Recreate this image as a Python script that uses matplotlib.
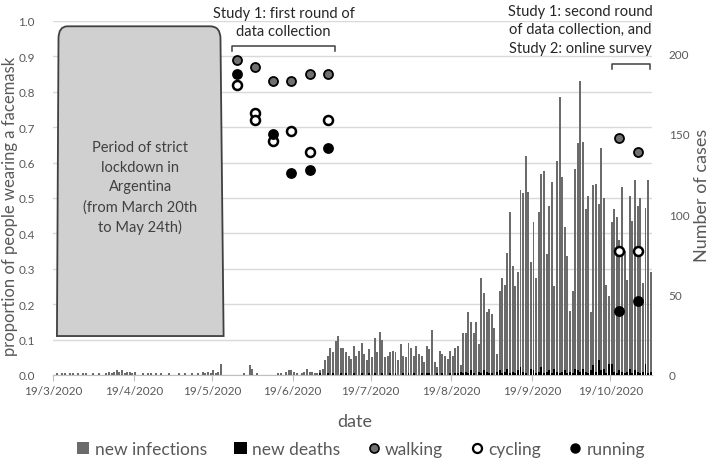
import datetime as dt
import matplotlib
matplotlib.use('Agg')
import matplotlib.pyplot as plt
import matplotlib.dates as mdates
from matplotlib.path import Path
from matplotlib.patches import PathPatch, Patch
from matplotlib.lines import Line2D
from matplotlib.ticker import FuncFormatter, MultipleLocator

plt.rcParams['font.family'] = ['Lato', 'DejaVu Sans']

# daily series, one value per day starting 19/3/2020
start = dt.datetime(2020, 3, 19)
new_infections = [
    0, 1, 0, 1, 1, 0, 1, 1, 0, 1, 0, 1, 1,
    0, 0, 1, 0, 1, 0, 0, 1,
    2, 1, 2, 3, 2, 3, 1, 2, 2, 1, 2,
    0, 0, 1, 0, 1, 1, 0, 1, 0, 1, 0, 0, 1, 0, 0, 0,
    1, 0, 1, 0, 0, 1, 0,
    1, 0, 2, 1, 2, 1, 3, 1, 2, 7, 0, 0,
    0, 0, 0, 0, 0, 0, 1, 0,
    6, 4, 0, 1, 0, 0,
    0, 0, 0, 0, 0, 1,
    1, 0, 2, 3, 3, 2, 1, 0, 1, 2, 4, 2, 2, 1, 1, 3,
    4, 9, 12, 17, 14, 21, 24, 17, 17, 14, 12, 10, 18, 12, 15,
    20, 13, 9, 16, 11, 23, 14, 27,
    22, 11, 12, 14, 15, 14, 9, 19, 12, 11, 20, 17, 12, 18, 13, 12,
    8, 18, 16, 28, 8, 5, 15, 13, 12, 10, 15, 12, 17, 18, 6,
    26, 26, 39, 33, 26, 33, 19, 60, 51, 39, 41, 38, 29, 13, 52, 60,
    56, 76, 101, 68, 55, 64,
    115, 113, 136, 114, 70, 95, 60, 101, 125, 127, 75, 105, 120, 55, 133, 173,
    123, 92, 74, 40, 52, 128, 144, 183,
    145, 103, 111, 39, 118, 119, 106, 141, 110, 56, 49, 95, 103, 98, 84,
    117, 77, 59, 111, 96, 121, 105, 110, 57, 104, 121, 64,
]
new_deaths = [
    0, 0, 0, 0, 0, 0, 0, 0, 0, 0, 0, 0, 0, 0, 0, 0, 0, 0, 0, 0,
    0, 0, 0, 0, 0, 0, 0, 0, 0, 0, 0, 0, 0, 0, 0, 0, 0, 0, 0, 0,
    0, 0, 0, 0, 0, 0, 0, 0, 0, 0, 0, 0, 0, 0, 0, 0, 0, 0, 0, 0,
    0, 0, 0, 0, 0, 0, 0,
    0, 0, 0, 0, 0, 0, 0, 0, 0, 0,
    0, 0, 0, 0, 0, 0, 0, 0, 0, 0,
    0, 0, 0, 0, 0, 0, 0, 0, 0, 0,
    0, 0, 0, 0, 0, 1, 0, 0, 1, 0,
    1, 0, 0, 1, 0, 1, 0, 0, 1, 0,
    0, 1, 0, 0, 1, 0, 1, 0, 0, 1,
    0, 0, 1, 0, 1, 0, 0, 1, 0, 1,
    0, 1, 0, 0, 1, 0, 1, 1, 0, 0,
    1, 0, 1, 0, 0, 1, 0, 1, 1, 2,
    1, 2, 1, 3, 1, 0, 2, 1, 3, 2, 1, 1, 0, 2, 3, 1, 2, 4, 1, 2,
    1, 3, 5, 2, 1, 0, 4, 3, 1, 2, 5, 1, 2, 3, 1, 4, 2, 1,
    2, 3, 1, 2, 1, 4, 3, 2, 4, 2, 1, 3, 6, 2, 9, 3, 4, 1, 7, 7,
    2, 1, 3, 2, 1, 2, 4, 1, 3, 2, 1, 2, 7, 1, 2,
]

# proportion wearing a facemask (left axis)
walking_dates = ['2020-05-28', '2020-06-04', '2020-06-11', '2020-06-18',
                 '2020-06-25', '2020-07-02', '2020-10-22', '2020-10-29']
walking = [0.89, 0.87, 0.83, 0.83, 0.85, 0.85, 0.67, 0.63]
cycling_dates = ['2020-05-28', '2020-06-04', '2020-06-04', '2020-06-11',
                 '2020-06-18', '2020-06-25', '2020-07-02', '2020-10-22',
                 '2020-10-29']
cycling = [0.82, 0.74, 0.72, 0.66, 0.69, 0.63, 0.72, 0.35, 0.35]
running_dates = ['2020-05-28', '2020-06-11', '2020-06-18', '2020-06-25',
                 '2020-07-02', '2020-10-22', '2020-10-29']
running = [0.85, 0.68, 0.57, 0.58, 0.64, 0.18, 0.21]

lockdown_start = dt.datetime(2020, 3, 20, 12)
lockdown_end = dt.datetime(2020, 5, 23, 12)

grey_txt = '#595959'
noon = dt.timedelta(hours=12)


def to_dates(lst):
    return [dt.datetime.strptime(s, '%Y-%m-%d') + noon for s in lst]


days = [start + dt.timedelta(days=i) + noon for i in range(len(new_infections))]

fig = plt.figure(figsize=(7.09, 4.64), dpi=100)
ax = fig.add_axes([0.0748, 0.1897, 0.8448, 0.7629])
ax_bar = ax.twinx()
ax_sc = ax.twinx()

ax.set_xlim(start, start + dt.timedelta(days=len(new_infections)))
ax.set_ylim(0, 1)
ax.yaxis.set_major_locator(MultipleLocator(0.1))
ax.yaxis.set_major_formatter(FuncFormatter(lambda v, p: '%.1f' % v))
ax.grid(axis='y', color='#d9d9d9', lw=1)
ax.xaxis.set_major_locator(mdates.MonthLocator(bymonthday=19))
ax.xaxis.set_major_formatter(FuncFormatter(
    lambda v, p: '{d.day}/{d.month}/{d.year}'.format(d=mdates.num2date(v))))
ax.tick_params(axis='x', length=4, color='#bfbfbf', labelcolor=grey_txt,
               labelsize=8.5, pad=3)
ax.tick_params(axis='y', length=0, labelcolor=grey_txt, labelsize=8.5, pad=13)
for s in ['top', 'right', 'left']:
    ax.spines[s].set_visible(False)
ax.spines['bottom'].set_color('#bfbfbf')

ax_bar.bar(days, new_infections, width=0.75, color='#6b6b6b', zorder=2)
ax_bar.bar(days, new_deaths, width=0.75, color='black', zorder=3)
ax_bar.set_ylim(0, 220)
ax_bar.yaxis.set_major_locator(MultipleLocator(50))
ax_bar.tick_params(axis='y', length=0, labelcolor=grey_txt, labelsize=8.5,
                   pad=12)
for s in ax_bar.spines.values():
    s.set_visible(False)

ax_sc.set_ylim(0, 1)
ax_sc.axis('off')

# lockdown box with rounded top
x0 = mdates.date2num(lockdown_start)
x1 = mdates.date2num(lockdown_end)
y0, y1 = 0.11, 0.985
rx, ry = 4.0, 0.035
verts = [(x0, y0), (x0 + 0.6, y1 - ry), (x0 + 0.6, y1), (x0 + rx, y1),
         (x1 - rx - 1.2, y1), (x1 - 1.2, y1), (x1 - 1.2, y1 - ry),
         (x1, y0), (x0, y0)]
codes = [Path.MOVETO, Path.LINETO, Path.CURVE3, Path.CURVE3, Path.LINETO,
         Path.CURVE3, Path.CURVE3, Path.LINETO, Path.CLOSEPOLY]
ax_sc.add_patch(PathPatch(Path(verts, codes), fc='#d0d0d0', ec='#404040',
                          lw=1.3, zorder=1))
ax_sc.text((x0 + x1) / 2, 0.53,
           'Period of strict\nlockdown in\nArgentina\n(from March 20th\nto May 24th)',
           ha='center', va='center', fontsize=10.5, color='#404040',
           linespacing=1.5)

ax_sc.scatter(to_dates(walking_dates), walking, s=42, c='#707070',
              edgecolors='black', linewidths=1.3, zorder=5)
ax_sc.scatter(to_dates(cycling_dates), cycling, s=42, c='white',
              edgecolors='black', linewidths=1.8, zorder=5)
ax_sc.scatter(to_dates(running_dates), running, s=42, c='black',
              edgecolors='black', linewidths=1.3, zorder=5)

# study brackets and labels
r1 = to_dates(walking_dates[:6])
b0 = mdates.date2num(r1[0]) - 1.6
b1 = mdates.date2num(r1[-1]) + 2.6
ax_sc.plot([b0, b0, b1, b1], [0.914, 0.929, 0.929, 0.914], color='#404040',
           lw=1.1, clip_on=False)
ax_sc.text((b0 + b1) / 2, 0.998, 'Study 1: first round of\ndata collection',
           ha='center', va='center', fontsize=10.5, color='#262626',
           linespacing=1.4, clip_on=False)

c0 = mdates.date2num(dt.datetime(2020, 10, 19, 18))
c1 = mdates.date2num(dt.datetime(2020, 11, 3, 6))
ax_sc.plot([c0, c0, c1, c1], [0.864, 0.879, 0.879, 0.864], color='#404040',
           lw=1.1, clip_on=False)
ax_sc.text(mdates.date2num(dt.datetime(2020, 10, 7, 12)), 0.977,
           'Study 1: second round\nof data collection, and\nStudy 2: online survey',
           ha='center', va='center', fontsize=10.5, color='#262626',
           linespacing=1.4, clip_on=False)

fig.text(0.0135, 0.555, 'proportion of people wearing a facemask',
         rotation=90, ha='center', va='center', fontsize=12, color=grey_txt)
fig.text(0.99, 0.58, 'Number of cases', rotation=90, ha='center',
         va='center', fontsize=13, color=grey_txt)
fig.text(355 / 709, 0.09, 'date', ha='center', va='center', fontsize=13,
         color=grey_txt)

handles = [
    Patch(fc='#6b6b6b'),
    Patch(fc='black'),
    Line2D([], [], ls='', marker='o', ms=6.5, mfc='#707070', mec='black', mew=1.2),
    Line2D([], [], ls='', marker='o', ms=6.5, mfc='white', mec='black', mew=1.6),
    Line2D([], [], ls='', marker='o', ms=6.5, mfc='black', mec='black'),
]
labels = ['new infections', 'new deaths', 'walking', 'cycling', 'running']
leg = fig.legend(handles, labels, loc='center', bbox_to_anchor=(361 / 709, 0.03),
                 ncol=5, frameon=False, fontsize=12.5, handlelength=0.7,
                 handleheight=0.7, handletextpad=0.3, columnspacing=1.6)
for t in leg.get_texts():
    t.set_color(grey_txt)

fig.savefig('out.png', dpi=100)
